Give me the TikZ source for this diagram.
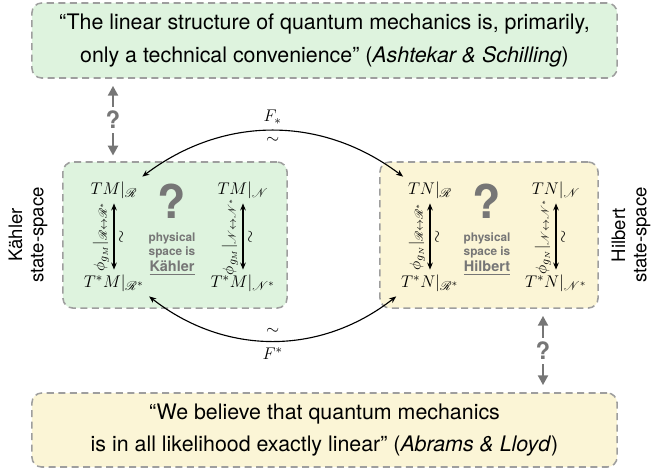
\documentclass[tikz,border=0pt]{standalone}
\usepackage{amsmath}
\usepackage{mathrsfs}
\usepackage{fontspec}
\setmainfont{TeX Gyre Heros}
\usetikzlibrary{arrows.meta}

\definecolor{kahlergreen}{RGB}{222,243,222}
\definecolor{hilbertyellow}{RGB}{251,245,214}
\definecolor{dashgray}{RGB}{158,158,158}
\definecolor{markgray}{RGB}{118,118,118}

\tikzset{
  spacebox/.style={draw=dashgray, line width=1.1pt, dash pattern=on 5pt off 3.2pt,
    rounded corners=7pt, inner sep=0pt},
  quotetext/.style={align=center, font=\fontsize{15.2}{22.8}\selectfont},
  sidelabel/.style={rotate=90, align=center, font=\fontsize{13.2}{15}\selectfont},
  bigmark/.style={text=markgray, inner sep=0pt, text height=24pt, text depth=0pt,
    font=\fontsize{33}{33}\selectfont\bfseries},
  smallmark/.style={text=markgray, inner sep=3pt, font=\fontsize{17}{17}\selectfont\bfseries},
  physnote/.style={text=markgray, align=center, inner sep=0pt, font=\fontsize{8.4}{10}\selectfont\bfseries},
  physname/.style={text=markgray, inner sep=1pt, font=\fontsize{10.3}{12}\selectfont\bfseries},
  iso/.style={{Stealth[length=5pt,width=4pt]}-{Stealth[length=5pt,width=4pt]}, line width=0.8pt},
  guess/.style={draw=markgray, line width=1.9pt, -{Triangle[length=7pt,width=7pt]}},
  maplabel/.style={font=\fontsize{11}{11}\selectfont},
}

\begin{document}
\begin{tikzpicture}[x=0.025cm, y=-0.025cm, font=\fontsize{13.2}{16}\selectfont]
  \useasboundingbox (0,0) rectangle (665,470);

  % The two quotes
  \node[spacebox, quotetext, fill=kahlergreen, minimum width=14.625cm, minimum height=1.875cm]
    (quoteA) at (324.5,40.5)
    {“The linear structure of quantum mechanics is, primarily,\\
     only a technical convenience” (\textit{Ashtekar \& Schilling})};
  \node[spacebox, quotetext, fill=hilbertyellow, minimum width=14.625cm, minimum height=1.85cm]
    (quoteL) at (324.5,430)
    {“We believe that quantum mechanics\\
     is in all likelihood exactly linear” (\textit{Abrams \& Lloyd})};

  % State-space boxes
  \node[spacebox, fill=kahlergreen, minimum width=5.6cm, minimum height=3.65cm] (kbox) at (175,235) {};
  \node[spacebox, fill=hilbertyellow, minimum width=5.45cm, minimum height=3.65cm] (hbox) at (489,235) {};

  \node[sidelabel] (klabel) at (28,235) {Kähler\\state-space};
  \node[sidelabel] (hlabel) at (631,235) {Hilbert\\state-space};

  % Bundles
  \node (TMR)  at (114,190) {$TM|_{\mathscr{R}}$};
  \node (TsMR) at (114,283) {$T^*M|_{\mathscr{R}^*}$};
  \node (TMN)  at (243,190) {$TM|_{\mathscr{N}}$};
  \node (TsMN) at (243,283) {$T^*M|_{\mathscr{N}^*}$};
  \node (TNR)  at (430,190) {$TN|_{\mathscr{R}}$};
  \node (TsNR) at (430,283) {$T^*N|_{\mathscr{R}^*}$};
  \node (TNN)  at (556,190) {$TN|_{\mathscr{N}}$};
  \node (TsNN) at (556,283) {$T^*N|_{\mathscr{N}^*}$};

  % Musical isomorphisms
  \draw[iso] (TsMR) -- (TMR)
    node[midway, sloped, above, maplabel] {$\phi_{g_M}|_{\mathscr{R}\leftrightarrow\mathscr{R}^*}$}
    node[midway, sloped, below] {$\sim$};
  \draw[iso] (TsMN) -- (TMN)
    node[midway, sloped, above, maplabel] {$\phi_{g_M}|_{\mathscr{N}\leftrightarrow\mathscr{N}^*}$}
    node[midway, sloped, below] {$\sim$};
  \draw[iso] (TsNR) -- (TNR)
    node[midway, sloped, above, maplabel] {$\phi_{g_N}|_{\mathscr{R}\leftrightarrow\mathscr{R}^*}$}
    node[midway, sloped, below] {$\sim$};
  \draw[iso] (TsNN) -- (TNN)
    node[midway, sloped, above, maplabel] {$\phi_{g_N}|_{\mathscr{N}\leftrightarrow\mathscr{N}^*}$}
    node[midway, sloped, below] {$\sim$};

  % Which one is physical?
  \node[bigmark] (kmark) at (172,202) {?};
  \node[physnote] (knote) at (172,245) {physical\\space is};
  \node[physname] (kname) at (172,268) {\underline{Kähler}};
  \node[bigmark] (hmark) at (487,202) {?};
  \node[physnote] (hnote) at (487,245) {physical\\space is};
  \node[physname] (hname) at (487,268) {\underline{Hilbert}};

  % Pushforward and pullback
  \draw[iso] (TMR.north east) to[bend left=37]
    node[above=1pt] {$F_*$} node[below=1pt] {$\sim$} (TNR.north west);
  \draw[iso] (TsMR.south east) to[bend right=38]
    node[above=1pt] {$\sim$} node[below=1pt] {$F^*$} (TsNR.south west);

  % Links to the quotes
  \node[smallmark] (qtop) at (113,120) {?};
  \draw[guess, shorten >=5pt] (qtop) -- (qtop |- quoteA.south);
  \draw[guess, shorten >=4pt] (qtop) -- (qtop |- kbox.north);
  \node[smallmark] (qbot) at (543,351) {?};
  \draw[guess, shorten >=5pt] (qbot) -- (qbot |- hbox.south);
  \draw[guess, shorten >=5pt] (qbot) -- (qbot |- quoteL.north);
\end{tikzpicture}
\end{document}
